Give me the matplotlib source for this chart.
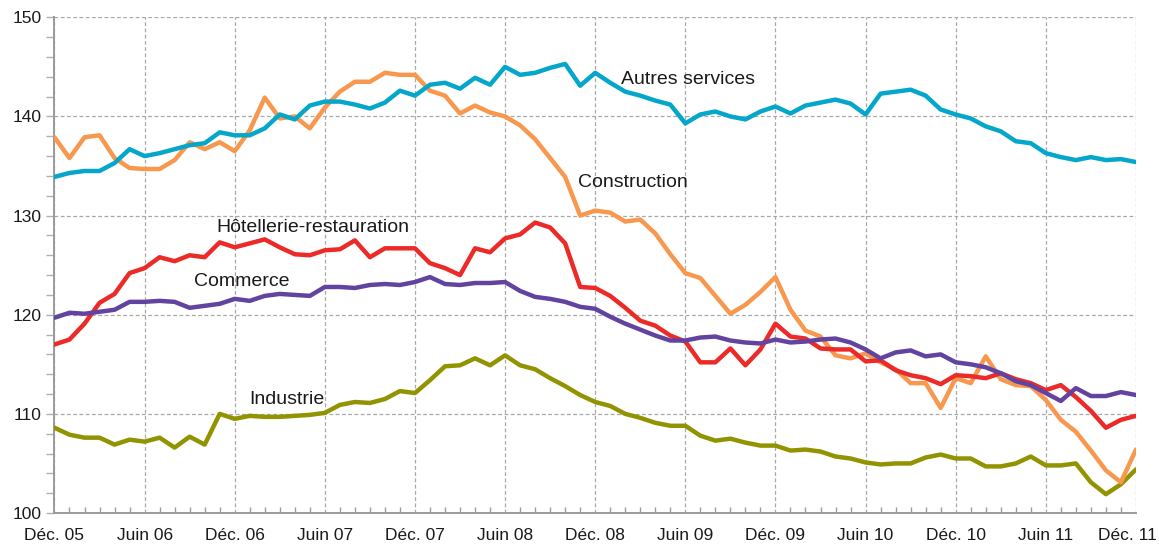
import matplotlib
matplotlib.use("Agg")
import matplotlib.pyplot as plt
from matplotlib.ticker import MultipleLocator, FixedLocator
from matplotlib.transforms import ScaledTranslation

plt.rcParams['font.family'] = ['Liberation Sans', 'DejaVu Sans']

months = list(range(73))
tick_positions = [0, 6, 12, 18, 24, 30, 36, 42, 48, 54, 60, 66, 72]
tick_labels = ["Déc. 05", "Juin 06", "Déc. 06", "Juin 07", "Déc. 07", "Juin 08",
               "Déc. 08", "Juin 09", "Déc. 09", "Juin 10", "Déc. 10", "Juin 11", "Déc. 11"]

autres_services = [133.9, 134.3, 134.5, 134.5, 135.3, 136.7, 136.0, 136.3, 136.7, 137.1,
                   137.3, 138.4, 138.1, 138.1, 138.8, 140.2, 139.7, 141.1, 141.5, 141.5,
                   141.2, 140.8, 141.4, 142.6, 142.1, 143.2, 143.4, 142.8, 143.9, 143.2,
                   145.0, 144.2, 144.4, 144.9, 145.3, 143.1, 144.4, 143.4, 142.5, 142.1,
                   141.6, 141.2, 139.3, 140.2, 140.5, 140.0, 139.7, 140.5, 141.0, 140.3,
                   141.1, 141.4, 141.7, 141.3, 140.2, 142.3, 142.5, 142.7, 142.1, 140.7,
                   140.2, 139.8, 139.0, 138.5, 137.5, 137.3, 136.3, 135.9, 135.6, 135.9,
                   135.6, 135.7, 135.4]

construction = [137.9, 135.8, 137.9, 138.1, 135.8, 134.8, 134.7, 134.7, 135.6, 137.4,
                136.7, 137.4, 136.5, 138.6, 141.9, 139.8, 140.0, 138.8, 140.9, 142.5,
                143.5, 143.5, 144.4, 144.2, 144.2, 142.6, 142.1, 140.3, 141.1, 140.4,
                140.0, 139.1, 137.7, 135.8, 133.9, 130.0, 130.5, 130.3, 129.4, 129.6,
                128.2, 126.1, 124.2, 123.7, 121.9, 120.1, 121.0, 122.3, 123.8, 120.5,
                118.4, 117.8, 115.9, 115.6, 116.1, 115.2, 114.5, 113.1, 113.1, 110.6,
                113.6, 113.1, 115.8, 113.5, 112.9, 112.8, 111.4, 109.4, 108.2, 106.3,
                104.3, 103.1, 106.4]

hotellerie = [117.0, 117.5, 119.1, 121.2, 122.1, 124.2, 124.7, 125.8, 125.4, 126.0,
              125.8, 127.3, 126.8, 127.2, 127.6, 126.8, 126.1, 126.0, 126.5, 126.6,
              127.5, 125.8, 126.7, 126.7, 126.7, 125.2, 124.7, 124.0, 126.7, 126.3,
              127.7, 128.1, 129.3, 128.8, 127.2, 122.8, 122.7, 121.9, 120.7, 119.4,
              118.9, 117.9, 117.3, 115.2, 115.2, 116.6, 114.9, 116.5, 119.1, 117.8,
              117.6, 116.6, 116.5, 116.5, 115.3, 115.4, 114.4, 113.9, 113.6, 113.0,
              113.9, 113.8, 113.6, 114.1, 113.5, 113.1, 112.4, 112.9, 111.7, 110.3,
              108.6, 109.4, 109.8]

commerce = [119.7, 120.2, 120.1, 120.3, 120.5, 121.3, 121.3, 121.4, 121.3, 120.7,
            120.9, 121.1, 121.6, 121.4, 121.9, 122.1, 122.0, 121.9, 122.8, 122.8,
            122.7, 123.0, 123.1, 123.0, 123.3, 123.8, 123.1, 123.0, 123.2, 123.2,
            123.3, 122.4, 121.8, 121.6, 121.3, 120.8, 120.6, 119.8, 119.1, 118.5,
            117.9, 117.4, 117.4, 117.7, 117.8, 117.4, 117.2, 117.1, 117.5, 117.2,
            117.3, 117.5, 117.6, 117.2, 116.5, 115.6, 116.2, 116.4, 115.8, 116.0,
            115.2, 115.0, 114.7, 114.1, 113.3, 112.9, 112.1, 111.3, 112.6, 111.8,
            111.8, 112.2, 111.9]

industrie = [108.6, 107.9, 107.6, 107.6, 106.9, 107.4, 107.2, 107.6, 106.6, 107.7,
             106.9, 110.0, 109.5, 109.8, 109.7, 109.7, 109.8, 109.9, 110.1, 110.9,
             111.2, 111.1, 111.5, 112.3, 112.1, 113.4, 114.8, 114.9, 115.6, 114.9,
             115.9, 114.9, 114.5, 113.6, 112.8, 111.9, 111.2, 110.8, 110.0, 109.6,
             109.1, 108.8, 108.8, 107.8, 107.3, 107.5, 107.1, 106.8, 106.8, 106.3,
             106.4, 106.2, 105.7, 105.5, 105.1, 104.9, 105.0, 105.0, 105.6, 105.9,
             105.5, 105.5, 104.7, 104.7, 105.0, 105.7, 104.8, 104.8, 105.0, 103.1,
             101.9, 102.9, 104.4]

series_names = ["Industrie", "Construction", "Hôtellerie-restauration", "Commerce", "Autres services"]
series_values = [industrie, construction, hotellerie, commerce, autres_services]
series_colors = ["#929300", "#f7984e", "#ec2a27", "#6343a0", "#04a7c9"]

# label anchor positions (month index, value), baseline-aligned
label_x = [12.95, 34.85, 10.8, 9.3, 37.7]
label_y = [111.0, 132.85, 128.3, 122.9, 143.3]

fig = plt.figure(figsize=(11.59, 5.46), dpi=100)
ax = fig.add_axes([0.0470, 0.0604, 0.9331, 0.9079])

for vals, col in zip(series_values, series_colors):
    ax.plot(months, vals, color=col, lw=3.2, solid_capstyle='round', solid_joinstyle='round', zorder=3)

for name, lx, ly in zip(series_names, label_x, label_y):
    ax.text(lx, ly, name, fontsize=14, color="#1a1a1a", ha='left', va='baseline', zorder=4)

ax.set_xlim(0, 72)
ax.set_ylim(100, 150)
ax.xaxis.set_major_locator(FixedLocator(tick_positions))
ax.set_xticklabels(tick_labels)
ax.xaxis.set_minor_locator(MultipleLocator(1))
ax.yaxis.set_major_locator(MultipleLocator(10))
ax.yaxis.set_minor_locator(MultipleLocator(2))

ax.grid(True, which='major', color='#a8a8a8', linestyle=(0, (3, 2)), linewidth=0.9)
ax.set_axisbelow(True)

for s in ['top', 'right']:
    ax.spines[s].set_visible(False)
for s in ['left', 'bottom']:
    ax.spines[s].set_color('#9a9a9a')
    ax.spines[s].set_linewidth(1.4)

ax.tick_params(axis='x', which='major', direction='in', length=0, labelsize=12.5, pad=11, colors='#9a9a9a', labelcolor='#1a1a1a')
ax.tick_params(axis='x', which='minor', direction='in', length=4, width=1, colors='#9a9a9a')
ax.tick_params(axis='y', which='both', direction='out', length=6, width=1, colors='#b0b0b0', labelcolor='#1a1a1a')
ax.tick_params(axis='y', which='major', labelsize=12.5, pad=3)

# nudge the last x label left so it stays inside the figure, as in the reference
last = ax.get_xticklabels()[-1]
last.set_transform(last.get_transform() + ScaledTranslation(-8 / 100, 0, fig.dpi_scale_trans))

fig.savefig("out.png", dpi=100)
